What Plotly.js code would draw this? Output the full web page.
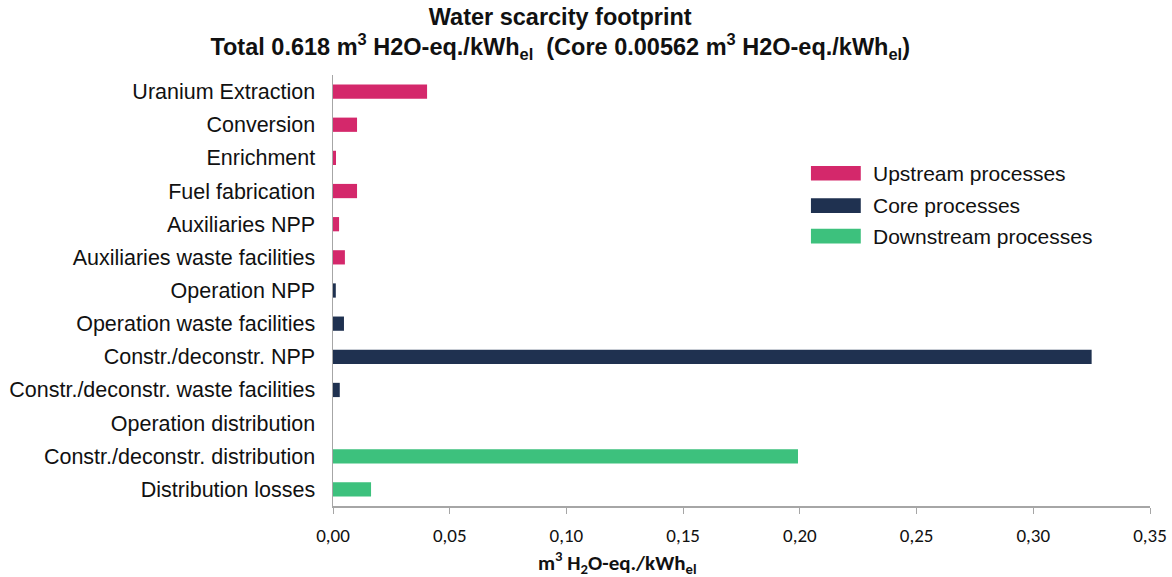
<!DOCTYPE html>
<html><head><meta charset="utf-8">
<script src="https://cdn.plot.ly/plotly-3.0.1.min.js"></script>
<style>html,body{margin:0;padding:0;background:#fff}#chart{width:1172px;height:577px}</style>
</head><body><div id="chart"></div>
<script>
const upstreamCats = ["Uranium Extraction","Conversion","Enrichment","Fuel fabrication","Auxiliaries NPP","Auxiliaries waste facilities"];
const upstreamVals = [0.0403,0.0103,0.0013,0.0103,0.0026,0.0051];
const coreCats = ["Operation NPP","Operation waste facilities","Constr./deconstr. NPP","Constr./deconstr. waste facilities"];
const coreVals = [0.0012,0.0047,0.3250,0.0029];
const downCats = ["Operation distribution","Constr./deconstr. distribution","Distribution losses"];
const downVals = [0.0,0.1992,0.0163];
const seriesNames = ["Upstream processes","Core processes","Downstream processes"];
const seriesColors = ["#D4286B","#1F3150","#3DC17D"];
const xTickVals = [0,0.05,0.10,0.15,0.20,0.25,0.30,0.35];
const xTickText = ["0,00","0,05","0,10","0,15","0,20","0,25","0,30","0,35"];

const allCats = upstreamCats.concat(coreCats, downCats);
const cats = [upstreamCats, coreCats, downCats];
const vals = [upstreamVals, coreVals, downVals];

const traces = cats.map((c,i)=>({
  type:'bar', orientation:'h', y:c, x:vals[i], name:seriesNames[i],
  marker:{color:seriesColors[i]}, width:0.43, showlegend:false, hoverinfo:'x+y'
}));

// custom legend (wide swatches)
const shapes = [], annotations = [];
const legX0 = 0.585, legX1 = 0.646, legY = [0.772, 0.697, 0.626];
seriesNames.forEach((n,i)=>{
  shapes.push({type:'rect', xref:'paper', yref:'paper', x0:legX0, x1:legX1, y0:legY[i]-0.017, y1:legY[i]+0.017,
    fillcolor:seriesColors[i], line:{width:0}});
  annotations.push({xref:'paper', yref:'paper', x:legX1+0.012, y:legY[i], xanchor:'left', yanchor:'middle',
    text:n, showarrow:false, font:{family:'Liberation Sans, Arial', size:21, color:'#111'}});
});
annotations.push({xref:'paper', yref:'paper', x:0.348, y:-0.13, xanchor:'center', yanchor:'middle',
  text:'<b>m<sup>3</sup> H<sub>2</sub>O-eq./kWh<sub>el</sub></b>', showarrow:false,
  font:{family:'Carlito, Lato, Liberation Sans', size:21, color:'#111'}});

const layout = {
  width:1172, height:577,
  margin:{l:333, r:22, t:75, b:71},
  paper_bgcolor:'#fff', plot_bgcolor:'#fff',
  barmode:'overlay',
  title:{text:'<b>Water scarcity footprint<br>Total 0.618 m<sup>3</sup> H2O-eq./kWh<sub>el</sub>  (Core 0.00562 m<sup>3</sup> H2O-eq./kWh<sub>el</sub>)</b>',
    x:0.478, xref:'container', xanchor:'center', y:0.957, yref:'container', yanchor:'top',
    font:{family:'Liberation Sans, Arial', size:23.5, color:'#111'}},
  xaxis:{range:[0,0.35], tickvals:xTickVals, ticktext:xTickText, showgrid:false, zeroline:false,
    showline:true, linecolor:'#A6A6A6', linewidth:1.5, ticks:'outside', ticklen:6, tickcolor:'#A6A6A6', tickwidth:1,
    ticklabelstandoff:6,
    tickfont:{family:'Carlito, Lato, Liberation Sans', size:19, color:'#111'}, fixedrange:true},
  yaxis:{type:'category', categoryorder:'array', categoryarray:allCats, autorange:'reversed',
    range:[allCats.length-0.5,-0.5], showgrid:false, zeroline:false, showline:true, linecolor:'#A6A6A6', linewidth:1.5,
    ticks:'', ticklabelstandoff:12,
    tickfont:{family:'Liberation Sans, Arial', size:21.5, color:'#111'}},
  shapes:shapes, annotations:annotations
};
Plotly.newPlot('chart', traces, layout, {displayModeBar:false, staticPlot:true});
</script></body></html>
